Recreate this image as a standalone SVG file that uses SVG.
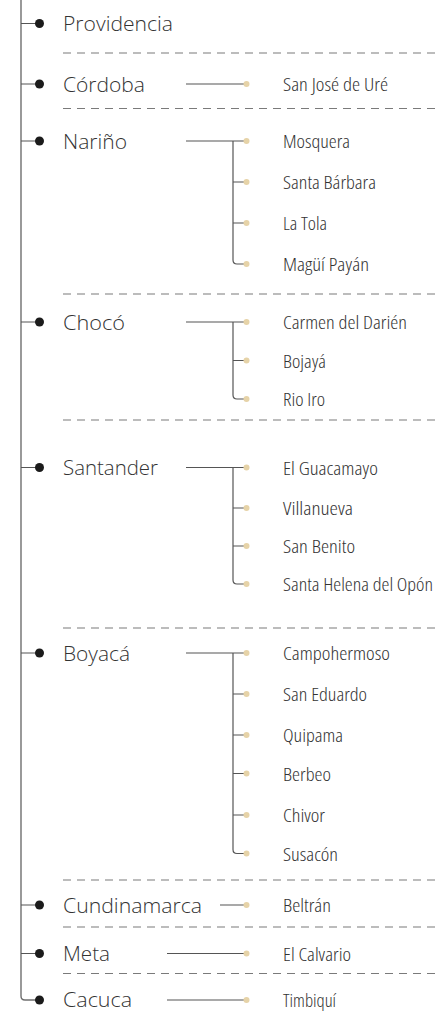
<svg xmlns="http://www.w3.org/2000/svg" width="438" height="1011" viewBox="0 0 438 1011">
<style>
.bg{fill:#fff}
.trunk{fill:none;stroke:#6f6f6f;stroke-width:1.4}
.con{fill:none;stroke:#555;stroke-width:1.2}
.dash{fill:none;stroke:#7a7a7a;stroke-width:1.2;stroke-dasharray:8 6}
.dot{fill:#1b1b1b}
.sdot{fill:#e6d3a8}
.cat{font-family:"Open Sans","Noto Sans","Liberation Sans",sans-serif;font-weight:300;font-size:20px;fill:#333}
.sub{font-family:"Open Sans","Liberation Sans",sans-serif;font-stretch:75%;font-weight:350;font-size:19px;fill:#333}
</style>
<rect class="bg" width="438" height="1011"/>
<g id="connectors">
<path class="trunk" d="M21 0 V996 Q21 1000 25 1000 H39"/>
<path class="con" d="M21 23.5 H39 M21 84 H39 M21 141 H39 M21 322 H39 M21 467.5 H39 M21 653 H39 M21 905 H39 M21 953.5 H39"/>
<path class="dash" d="M63 53 H438 M63 108.5 H438 M63 294 H438 M63 420 H438 M63 628 H438 M63 880 H438 M63 927 H438 M63 973.5 H438"/>
<path class="con" d="M186 84 H246"/>
<path class="con" d="M186 141 H246 M233 141 V260 Q233 264 237 264 H246 M233 182 H246 M233 223 H246"/>
<path class="con" d="M186 322 H246 M233 322 V395 Q233 399 237 399 H246 M233 360.5 H246"/>
<path class="con" d="M186 467.5 H246 M233 467.5 V580 Q233 584 237 584 H246 M233 508 H246 M233 546 H246"/>
<path class="con" d="M186 653 H246 M233 653 V849.5 Q233 853.5 237 853.5 H246 M233 694 H246 M233 735 H246 M233 773.5 H246 M233 815 H246"/>
<path class="con" d="M220 905 H246 M167 953.5 H246 M167 1000 H246"/>
</g>
<g id="providencia"><circle class="dot" cx="39.5" cy="23.5" r="4.5"/><text class="cat" x="63" y="31" textLength="110" lengthAdjust="spacingAndGlyphs">Providencia</text></g>
<g id="cordoba"><circle class="dot" cx="39.5" cy="84" r="4.5"/><text class="cat" x="63" y="91.5" textLength="82" lengthAdjust="spacingAndGlyphs">Córdoba</text></g>
<g id="narino"><circle class="dot" cx="39.5" cy="141" r="4.5"/><text class="cat" x="63" y="148.5" textLength="64" lengthAdjust="spacingAndGlyphs">Nariño</text></g>
<g id="choco"><circle class="dot" cx="39.5" cy="322" r="4.5"/><text class="cat" x="63" y="329.5" textLength="62" lengthAdjust="spacingAndGlyphs">Chocó</text></g>
<g id="santander"><circle class="dot" cx="39.5" cy="467.5" r="4.5"/><text class="cat" x="63" y="475" textLength="95" lengthAdjust="spacingAndGlyphs">Santander</text></g>
<g id="boyaca"><circle class="dot" cx="39.5" cy="653" r="4.5"/><text class="cat" x="63" y="660.5" textLength="67" lengthAdjust="spacingAndGlyphs">Boyacá</text></g>
<g id="cundinamarca"><circle class="dot" cx="39.5" cy="905" r="4.5"/><text class="cat" x="63" y="912.5" textLength="139" lengthAdjust="spacingAndGlyphs">Cundinamarca</text></g>
<g id="meta"><circle class="dot" cx="39.5" cy="953.5" r="4.5"/><text class="cat" x="63" y="961" textLength="47" lengthAdjust="spacingAndGlyphs">Meta</text></g>
<g id="cacuca"><circle class="dot" cx="39.5" cy="1000" r="4.5"/><text class="cat" x="63" y="1007" textLength="69" lengthAdjust="spacingAndGlyphs">Cacuca</text></g>
<g id="san-jose-de-ure"><circle class="sdot" cx="246.5" cy="84" r="3"/><text class="sub" x="283" y="91" textLength="105" lengthAdjust="spacingAndGlyphs">San José de Uré</text></g>
<g id="mosquera"><circle class="sdot" cx="246.5" cy="141" r="3"/><text class="sub" x="283" y="148" textLength="67" lengthAdjust="spacingAndGlyphs">Mosquera</text></g>
<g id="santa-barbara"><circle class="sdot" cx="246.5" cy="182" r="3"/><text class="sub" x="283" y="189" textLength="93" lengthAdjust="spacingAndGlyphs">Santa Bárbara</text></g>
<g id="la-tola"><circle class="sdot" cx="246.5" cy="223" r="3"/><text class="sub" x="283" y="230" textLength="44" lengthAdjust="spacingAndGlyphs">La Tola</text></g>
<g id="magui-payan"><circle class="sdot" cx="246.5" cy="264" r="3"/><text class="sub" x="283" y="271" textLength="86" lengthAdjust="spacingAndGlyphs">Magüí Payán</text></g>
<g id="carmen-del-darien"><circle class="sdot" cx="246.5" cy="322" r="3"/><text class="sub" x="283" y="329" textLength="124" lengthAdjust="spacingAndGlyphs">Carmen del Darién</text></g>
<g id="bojaya"><circle class="sdot" cx="246.5" cy="360.5" r="3"/><text class="sub" x="283" y="367.5" textLength="43" lengthAdjust="spacingAndGlyphs">Bojayá</text></g>
<g id="rio-iro"><circle class="sdot" cx="246.5" cy="399" r="3"/><text class="sub" x="283" y="406" textLength="42" lengthAdjust="spacingAndGlyphs">Rio Iro</text></g>
<g id="el-guacamayo"><circle class="sdot" cx="246.5" cy="467.5" r="3"/><text class="sub" x="283" y="474.5" textLength="95" lengthAdjust="spacingAndGlyphs">El Guacamayo</text></g>
<g id="villanueva"><circle class="sdot" cx="246.5" cy="508" r="3"/><text class="sub" x="283" y="515" textLength="70" lengthAdjust="spacingAndGlyphs">Villanueva</text></g>
<g id="san-benito"><circle class="sdot" cx="246.5" cy="546" r="3"/><text class="sub" x="283" y="553" textLength="72" lengthAdjust="spacingAndGlyphs">San Benito</text></g>
<g id="santa-helena-del-opon"><circle class="sdot" cx="246.5" cy="584" r="3"/><text class="sub" x="283" y="591" textLength="150" lengthAdjust="spacingAndGlyphs">Santa Helena del Opón</text></g>
<g id="campohermoso"><circle class="sdot" cx="246.5" cy="653" r="3"/><text class="sub" x="283" y="660" textLength="107" lengthAdjust="spacingAndGlyphs">Campohermoso</text></g>
<g id="san-eduardo"><circle class="sdot" cx="246.5" cy="694" r="3"/><text class="sub" x="283" y="701" textLength="84" lengthAdjust="spacingAndGlyphs">San Eduardo</text></g>
<g id="quipama"><circle class="sdot" cx="246.5" cy="735" r="3"/><text class="sub" x="283" y="742" textLength="60" lengthAdjust="spacingAndGlyphs">Quipama</text></g>
<g id="berbeo"><circle class="sdot" cx="246.5" cy="773.5" r="3"/><text class="sub" x="283" y="780.5" textLength="48" lengthAdjust="spacingAndGlyphs">Berbeo</text></g>
<g id="chivor"><circle class="sdot" cx="246.5" cy="815" r="3"/><text class="sub" x="283" y="822" textLength="42" lengthAdjust="spacingAndGlyphs">Chivor</text></g>
<g id="susacon"><circle class="sdot" cx="246.5" cy="853.5" r="3"/><text class="sub" x="283" y="860.5" textLength="55" lengthAdjust="spacingAndGlyphs">Susacón</text></g>
<g id="beltran"><circle class="sdot" cx="246.5" cy="905" r="3"/><text class="sub" x="283" y="912" textLength="48" lengthAdjust="spacingAndGlyphs">Beltrán</text></g>
<g id="el-calvario"><circle class="sdot" cx="246.5" cy="953.5" r="3"/><text class="sub" x="283" y="960.5" textLength="68" lengthAdjust="spacingAndGlyphs">El Calvario</text></g>
<g id="timbiqui"><circle class="sdot" cx="246.5" cy="1000" r="3"/><text class="sub" x="283" y="1007" textLength="53" lengthAdjust="spacingAndGlyphs">Timbiquí</text></g>
</svg>
